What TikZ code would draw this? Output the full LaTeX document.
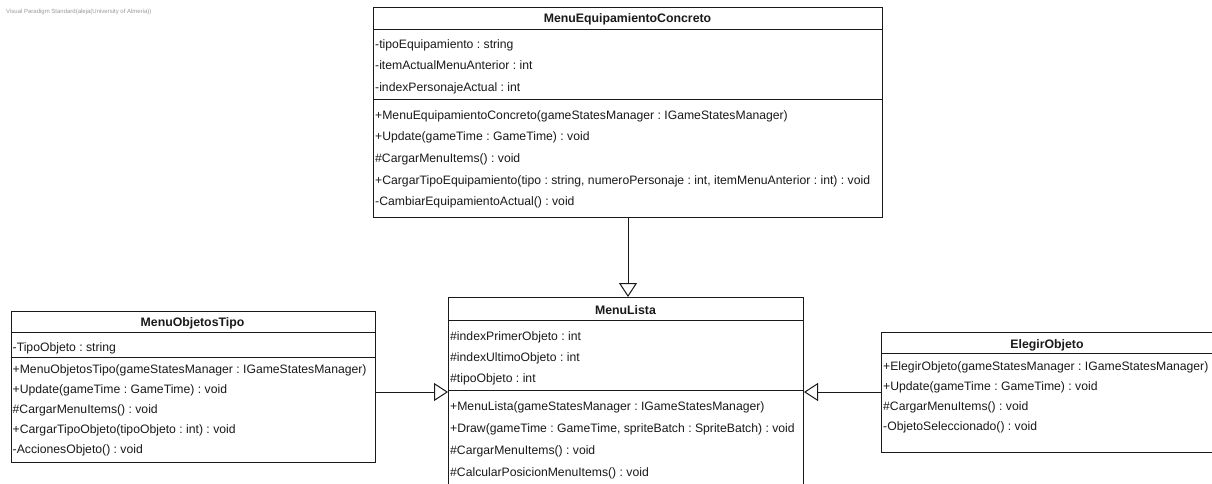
\documentclass[tikz,border=0pt]{standalone}
\usepackage{fontspec}
\setmainfont{Liberation Sans}
\usetikzlibrary{arrows.meta}
\frenchspacing
\definecolor{ink}{HTML}{1A1A1A}
\definecolor{wm}{HTML}{9A9A9A}
\tikzset{
  umlbox/.style={draw=ink, line width=1pt, inner sep=0pt, anchor=north west},
  sepline/.style={draw=ink, line width=1pt},
  txt/.style={anchor=base west, inner sep=0pt, text=ink, font=\fontsize{12.2}{15}\selectfont\frenchspacing},
  hdr/.style={anchor=base, inner sep=0pt, text=ink, font=\fontsize{12.3}{15}\selectfont\bfseries},
  gen/.style={draw=ink, line width=1pt, -{Triangle[open, length=14pt, width=18pt, line width=1pt]}},
  watermark/.style={anchor=base west, inner sep=0pt, text=wm, font=\fontsize{6}{7}\selectfont\frenchspacing}
}
\begin{document}
\begin{tikzpicture}[x=1pt, y=-1pt]
\useasboundingbox (0,0) rectangle (1212,483);
\clip (0,0) rectangle (1212,483);
\fill[white] (0,0) rectangle (1212,483);

\node[watermark] (wmk) at (6,13) {Visual Paradigm Standard(aleja(University of Almeria))};

% ---------- MenuEquipamientoConcreto ----------
\node[umlbox, minimum width=509pt, minimum height=210pt] (conc) at (373,7) {};
\node[hdr] (concH) at (627.5,22) {MenuEquipamientoConcreto};
\draw[sepline] (conc.west |- 0,29) -- (conc.east |- 0,29);
\draw[sepline] (conc.west |- 0,99) -- (conc.east |- 0,99);
\node[txt] (concA1) at (375,48.5) {-tipoEquipamiento : string};
\node[txt] (concA2) at (375,69.5) {-itemActualMenuAnterior : int};
\node[txt] (concA3) at (375,91) {-indexPersonajeActual : int};
\node[txt] (concO1) at (375,119.5) {+MenuEquipamientoConcreto(gameStatesManager : IGameStatesManager)};
\node[txt] (concO2) at (375,140.5) {+Update(gameTime : GameTime) : void};
\node[txt] (concO3) at (375,162) {\#CargarMenuItems() : void};
\node[txt] (concO4) at (375,184) {+CargarTipoEquipamiento(tipo : string, numeroPersonaje : int, itemMenuAnterior : int) : void};
\node[txt] (concO5) at (375,205.5) {-CambiarEquipamientoActual() : void};

% ---------- MenuObjetosTipo ----------
\node[umlbox, minimum width=364pt, minimum height=151pt] (tipo) at (10.5,311) {};
\node[hdr] (tipoH) at (192.5,326) {MenuObjetosTipo};
\draw[sepline] (tipo.west |- 0,332) -- (tipo.east |- 0,332);
\draw[sepline] (tipo.west |- 0,357) -- (tipo.east |- 0,357);
\node[txt] (tipoA1) at (12.5,351) {-TipoObjeto : string};
\node[txt] (tipoO1) at (12.5,373.5) {+MenuObjetosTipo(gameStatesManager : IGameStatesManager)};
\node[txt] (tipoO2) at (12.5,393.5) {+Update(gameTime : GameTime) : void};
\node[txt] (tipoO3) at (12.5,413) {\#CargarMenuItems() : void};
\node[txt] (tipoO4) at (12.5,433) {+CargarTipoObjeto(tipoObjeto : int) : void};
\node[txt] (tipoO5) at (12.5,453) {-AccionesObjeto() : void};

% ---------- MenuLista ----------
\node[umlbox, minimum width=355pt, minimum height=210pt] (lista) at (448,297) {};
\node[hdr] (listaH) at (625.5,314) {MenuLista};
\draw[sepline] (lista.west |- 0,320.5) -- (lista.east |- 0,320.5);
\draw[sepline] (lista.west |- 0,390) -- (lista.east |- 0,390);
\node[txt] (listaA1) at (450,340) {\#indexPrimerObjeto : int};
\node[txt] (listaA2) at (450,361) {\#indexUltimoObjeto : int};
\node[txt] (listaA3) at (450,382) {\#tipoObjeto : int};
\node[txt] (listaO1) at (450,410) {+MenuLista(gameStatesManager : IGameStatesManager)};
\node[txt] (listaO2) at (450,432) {+Draw(gameTime : GameTime, spriteBatch : SpriteBatch) : void};
\node[txt] (listaO3) at (450,454) {\#CargarMenuItems() : void};
\node[txt] (listaO4) at (450,476) {\#CalcularPosicionMenuItems() : void};

% ---------- ElegirObjeto ----------
\node[umlbox, minimum width=340pt, minimum height=120pt] (elegir) at (881,332) {};
\node[hdr] (elegirH) at (1047,348) {ElegirObjeto};
\draw[sepline] (elegir.west |- 0,353.5) -- (elegir.east |- 0,353.5);
\node[txt] (elegirO1) at (883,370) {+ElegirObjeto(gameStatesManager : IGameStatesManager)};
\node[txt] (elegirO2) at (883,390) {+Update(gameTime : GameTime) : void};
\node[txt] (elegirO3) at (883,410) {\#CargarMenuItems() : void};
\node[txt] (elegirO4) at (883,430) {-ObjetoSeleccionado() : void};

% ---------- generalisations ----------
\coordinate (ly) at (0,392);
\draw[gen] (conc.south) -- (conc.south |- lista.north);
\draw[gen] (tipo.east |- ly) -- (lista.west |- ly);
\draw[gen] (elegir.west |- ly) -- (lista.east |- ly);
\end{tikzpicture}
\end{document}
